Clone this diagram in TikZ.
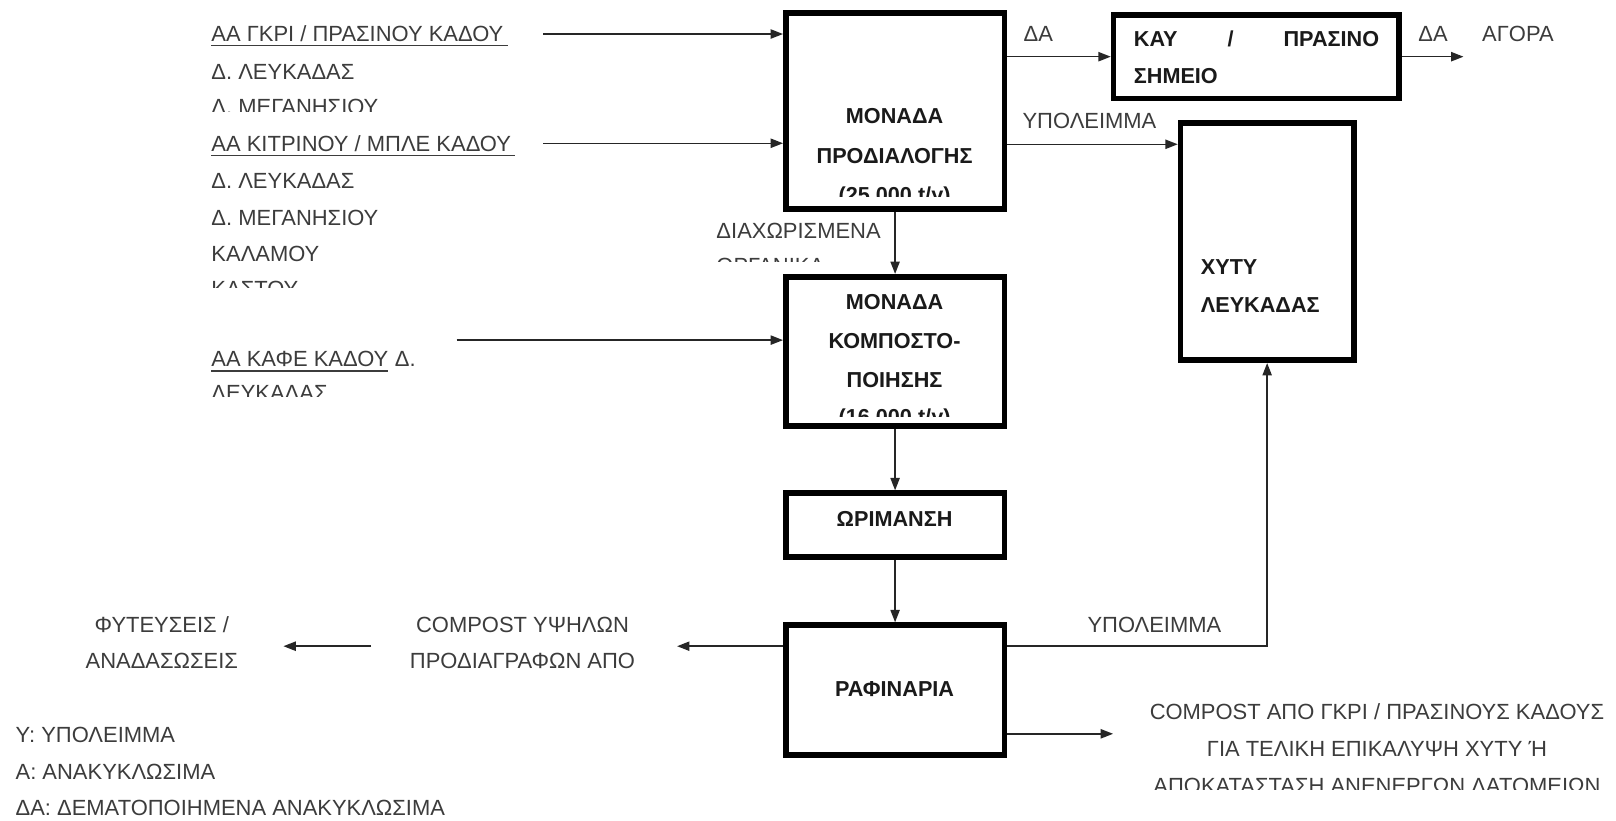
\documentclass[tikz,border=0pt]{standalone}
\usepackage{fontspec}
\setmainfont{Liberation Sans}
\usetikzlibrary{arrows.meta,calc}
\definecolor{txt}{HTML}{3C3C3C}
\definecolor{bx}{HTML}{1A1A1A}
\begin{document}
\begin{tikzpicture}[x=1pt,y=-1pt,
  lbl/.style={inner sep=0pt, text=txt, font=\fontsize{21.3}{21.3}\selectfont},
  unit/.style={draw=black, line width=5.5pt, inner sep=0pt},
  btxt/.style={inner sep=0pt, text=bx, font=\fontsize{21}{21}\selectfont\bfseries},
  arr/.style={line width=1.4pt, draw=black!85, -{Triangle[length=12pt,width=9pt]}},
  ul/.style={line width=1.3pt, draw=txt},
  ln/.style={line width=1.4pt, draw=black!85}]
\useasboundingbox (0,0) rectangle (1568,796);
\fill[white] (0,0) rectangle (1568,796);

% ---------- units ----------
\node[unit, minimum width=212pt, minimum height=190pt] (box1) at (868.5,107.5) {};
\node[unit, minimum width=277pt, minimum height=81pt] (kay) at (1219,55) {};
\node[unit, minimum width=168pt, minimum height=230pt] (xyty) at (1229.5,234.5) {};
\node[unit, minimum width=212pt, minimum height=145pt] (box2) at (868.5,341) {};
\node[unit, minimum width=212pt, minimum height=62pt] (box3) at (868.5,509.5) {};
\node[unit, minimum width=212pt, minimum height=126pt] (box4) at (868.5,669.5) {};

% ---------- texts in units ----------
\node[btxt, anchor=base] (b1a) at (868,120) {ΜΟΝΑΔΑ};
\node[btxt, anchor=base] (b1b) at (868,159) {ΠΡΟΔΙΑΛΟΓΗΣ};
\begin{scope}
\clip (770,170) rectangle (970,191);
\node[btxt, anchor=base] (b1c) at (868,196) {(25.000 t/y)};
\end{scope}

\node[btxt, anchor=base west, text width=238pt] (k1) at (1100,45) {ΚΑΥ\hfill/\hfill ΠΡΑΣΙΝΟ};
\node[btxt, anchor=base west] (k2) at (1100,81) {ΣΗΜΕΙΟ};

\node[btxt, anchor=base west] (x1) at (1165,266) {ΧΥΤΥ};
\node[btxt, anchor=base west] (x2) at (1165,303) {ΛΕΥΚΑΔΑΣ};

\node[btxt, anchor=base] (b2a) at (868,300) {ΜΟΝΑΔΑ};
\node[btxt, anchor=base] (b2b) at (868,338) {ΚΟΜΠΟΣΤΟ-};
\node[btxt, anchor=base] (b2c) at (868,376) {ΠΟΙΗΣΗΣ};
\begin{scope}
\clip (770,385) rectangle (970,404);
\node[btxt, anchor=base] (b2d) at (868,412) {(16.000 t/y)};
\end{scope}

\node[btxt, anchor=base] (b3) at (868,511) {ΩΡΙΜΑΝΣΗ};
\node[btxt, anchor=base] (b4) at (868,676) {ΡΑΦΙΝΑΡΙΑ};

% ---------- input texts ----------
\begin{scope}
\clip (195,0) rectangle (520,108);
\node[lbl, anchor=base west] (t1) at (205,40) {ΑΑ ΓΚΡΙ / ΠΡΑΣΙΝΟΥ ΚΑΔΟΥ};
\node[lbl, anchor=base west] (t2) at (205,77) {Δ. ΛΕΥΚΑΔΑΣ};
\node[lbl, anchor=base west] (t3) at (205,111) {Δ. ΜΕΓΑΝΗΣΙΟΥ};
\end{scope}
\draw[ul] ([yshift=-4pt]t1.base west) -- ([yshift=-4pt,xshift=4pt]t1.base east);
\begin{scope}
\clip (195,120) rectangle (520,279);
\node[lbl, anchor=base west] (t4) at (205,147) {ΑΑ ΚΙΤΡΙΝΟΥ / ΜΠΛΕ ΚΑΔΟΥ};
\node[lbl, anchor=base west] (t5) at (205,183) {Δ. ΛΕΥΚΑΔΑΣ};
\node[lbl, anchor=base west] (t6) at (205,219) {Δ. ΜΕΓΑΝΗΣΙΟΥ};
\node[lbl, anchor=base west] (t7) at (205,254) {ΚΑΛΑΜΟΥ};
\node[lbl, anchor=base west] (t8) at (205,288) {ΚΑΣΤΟΥ};
\end{scope}
\draw[ul] ([yshift=-4pt]t4.base west) -- ([yshift=-4pt,xshift=4pt]t4.base east);
\begin{scope}
\clip (195,330) rectangle (520,385);
\node[lbl, anchor=base west] (t9) at (205,356) {ΑΑ ΚΑΦΕ ΚΑΔΟΥ};
\node[lbl, anchor=base west] (t9b) at ([xshift=6pt]t9.base east) {Δ.};
\node[lbl, anchor=base west] (t10) at (205,389) {ΛΕΥΚΑΔΑΣ};
\end{scope}
\draw[ul] ([yshift=-4pt]t9.base west) -- ([yshift=-4pt]t9.base east);

% ---------- flow labels ----------
\node[lbl, anchor=base west] (da1) at (993,40) {ΔΑ};
\node[lbl, anchor=base west] (yp1) at (992,125) {ΥΠΟΛΕΙΜΜΑ};
\node[lbl, anchor=base west] (da2) at (1376,40) {ΔΑ};
\node[lbl, anchor=base west] (agora) at (1438,40) {ΑΓΟΡΑ};
\begin{scope}
\clip (690,205) rectangle (860,254);
\node[lbl, anchor=base west] (dx1) at (695,231) {ΔΙΑΧΩΡΙΣΜΕΝΑ};
\node[lbl, anchor=base west] (dx2) at (695,265) {ΟΡΓΑΝΙΚΑ};
\end{scope}
\node[lbl, anchor=base west] (yp2) at (1055,614) {ΥΠΟΛΕΙΜΜΑ};
\node[lbl, anchor=base] (cp1) at (507,614) {COMPOST ΥΨΗΛΩΝ};
\node[lbl, anchor=base] (cp2) at (507,649) {ΠΡΟΔΙΑΓΡΑΦΩΝ ΑΠΟ};
\node[lbl, anchor=base] (ft1) at (157,614) {ΦΥΤΕΥΣΕΙΣ /};
\node[lbl, anchor=base] (ft2) at (157,649) {ΑΝΑΔΑΣΩΣΕΙΣ};
\begin{scope}
\clip (1090,670) rectangle (1568,766);
\node[lbl, anchor=base] (cg1) at (1336,698) {COMPOST ΑΠΟ ΓΚΡΙ / ΠΡΑΣΙΝΟΥΣ ΚΑΔΟΥΣ};
\node[lbl, anchor=base] (cg2) at (1336,734) {ΓΙΑ ΤΕΛΙΚΗ ΕΠΙΚΑΛΥΨΗ ΧΥΤΥ Ή};
\node[lbl, anchor=base] (cg3) at (1336,770) {ΑΠΟΚΑΤΑΣΤΑΣΗ ΑΝΕΝΕΡΓΩΝ ΛΑΤΟΜΕΙΩΝ};
\end{scope}
\node[lbl, anchor=base west] (lg1) at (15,720) {Υ: ΥΠΟΛΕΙΜΜΑ};
\node[lbl, anchor=base west] (lg2) at (15,756) {Α: ΑΝΑΚΥΚΛΩΣΙΜΑ};
\node[lbl, anchor=base west] (lg3) at (15,791) {ΔΑ: ΔΕΜΑΤΟΠΟΙΗΜΕΝΑ ΑΝΑΚΥΚΛΩΣΙΜΑ};

% ---------- connectors ----------
\coordinate (s1) at (527,33);
\coordinate (s2) at (527,139);
\coordinate (s3) at (443,330);
\coordinate (yq) at (1000,140);
\coordinate (mk) at (1420,55);
\coordinate (lq) at (657,627);
\coordinate (rq) at (1000,627);
\coordinate (c1) at (360,627);
\coordinate (c2) at (275,627);
\coordinate (rr) at (1080,712);

\draw[arr] (s1) -- (s1 -| box1.west);
\draw[arr] (s2) -- (s2 -| box1.west);
\draw[arr] (box1.east |- kay.west) -- (kay.west);
\draw[arr] (kay.east) -- (mk);
\draw[arr] (box1.east |- yq) -- (xyty.west |- yq);
\draw[arr] (box1.south) -- (box2.north);
\draw[arr] (s3) -- (s3 -| box2.west);
\draw[arr] (box2.south) -- (box3.north);
\draw[arr] (box3.south) -- (box4.north);
\draw[arr] (box4.west |- lq) -- (lq);
\draw[arr] (c1) -- (c2);
\draw[arr] (box4.east |- rq) -| (xyty.south);
\draw[arr] (box4.east |- rr) -- (rr);
\end{tikzpicture}
\end{document}
